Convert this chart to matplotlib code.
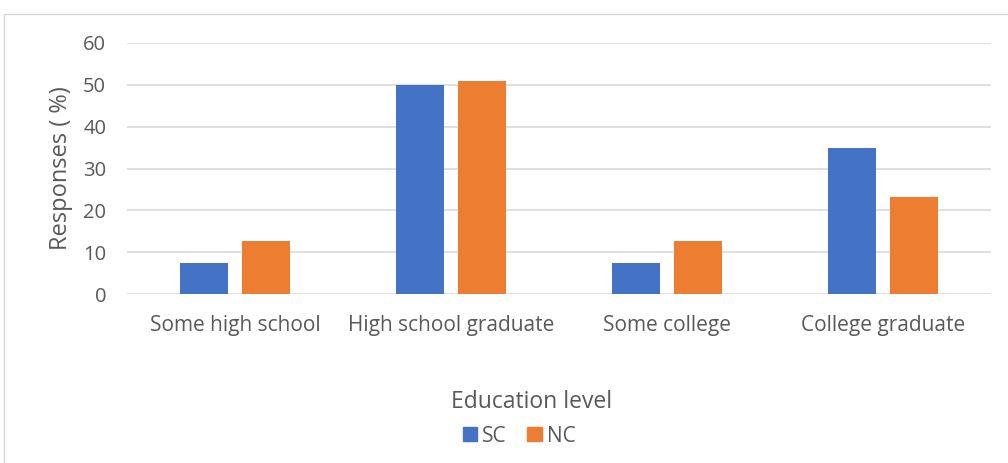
import matplotlib.pyplot as plt
from matplotlib.patches import Rectangle, Patch
import numpy as np

plt.rcParams['font.family'] = ['Open Sans', 'DejaVu Sans']

categories = ['Some high school', 'High school graduate', 'Some college', 'College graduate']
sc_values = [7.5, 50.0, 7.5, 34.8]
nc_values = [12.7, 51.0, 12.7, 23.3]
series_names = ['SC', 'NC']

blue = '#4472c4'
orange = '#ed7d31'
text_grey = '#595959'
grid_grey = '#d9d9d9'

W, H = 1008, 463
fig = plt.figure(figsize=(W / 100, H / 100), dpi=100)
fig.patch.set_facecolor('white')

# outer chart frame, open to the right and bottom
fig.patches.append(Rectangle((4 / W, -0.1), 1.2, 1 - 14 / H + 0.1,
                             transform=fig.transFigure, fill=False,
                             edgecolor=grid_grey, linewidth=1.0))

ax = fig.add_axes([127 / W, 1 - 294 / H, 864 / W, 251 / H])
x = np.arange(len(categories))
w = 0.22
off = 0.143
ax.bar(x - off, sc_values, w, color=blue, zorder=3)
ax.bar(x + off, nc_values, w, color=orange, zorder=3)

ax.set_xlim(-0.5, len(categories) - 0.5)
ax.set_ylim(0, 60)
ax.set_yticks(range(0, 61, 10))
ax.yaxis.grid(True, color=grid_grey, linewidth=1.2, zorder=0)
ax.set_axisbelow(True)
for s in ax.spines.values():
    s.set_visible(False)
ax.tick_params(axis='both', length=0, colors=text_grey)
ax.tick_params(axis='y', pad=15, labelsize=14.5)
ax.tick_params(axis='x', pad=15, labelsize=15)
ax.set_xticks(x)
ax.set_xticklabels(categories)

fig.text(61 / W, 1 - 168 / H, 'Responses ( %)', fontsize=17, rotation=90,
         color=text_grey, ha='center', va='center')
fig.text(532 / W, 1 - 402 / H, 'Education level', fontsize=16.5,
         color=text_grey, ha='center', va='center')

handles = [Patch(color=blue), Patch(color=orange)]
fig.legend(handles, series_names, loc='center', bbox_to_anchor=(519 / W, 1 - 436 / H),
           ncol=2, frameon=False, fontsize=15, labelcolor=text_grey,
           handlelength=0.68, handleheight=0.68, handletextpad=0.25,
           columnspacing=1.0, borderpad=0, borderaxespad=0)

fig.savefig('out.png', dpi=100)
